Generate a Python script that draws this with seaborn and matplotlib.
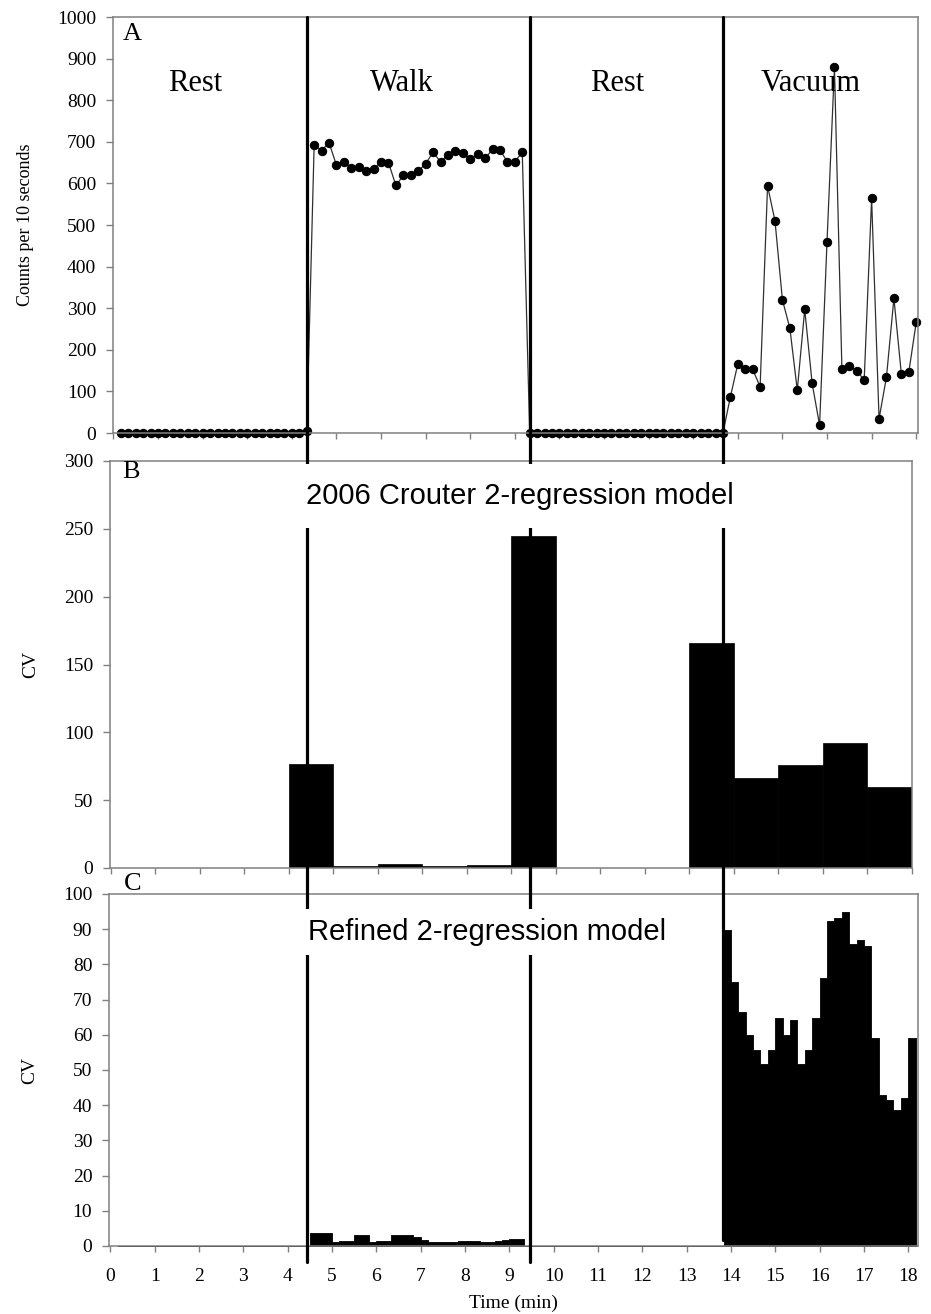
import numpy as np
import pandas as pd
import matplotlib
matplotlib.use("Agg")
import matplotlib.pyplot as plt
import seaborn as sns
from matplotlib.lines import Line2D
from matplotlib.transforms import blended_transform_factory

# ---------------- data (10-second epochs) ----------------
# Panel A: accelerometer counts per 10 s
rest1_counts = [0, 0, 0, 0, 0, 0, 0, 0, 0, 0, 0, 0, 0, 0, 0, 0, 0, 0, 0, 0,
                0, 0, 0, 0, 0, 4]
walk_counts = [692, 679, 698, 644, 652, 636, 640, 630, 634, 652, 650, 595, 619,
               620, 630, 647, 675, 652, 668, 679, 672, 659, 670, 660, 682, 680,
               652, 652, 675]
rest2_counts = [0, 0, 0, 0, 0, 0, 0, 0, 0, 0, 0, 0, 0, 0, 0, 0, 0, 0, 0, 0,
                0, 0, 0, 0, 0, 0, 0]
vacuum_counts = [87, 166, 154, 153, 111, 594, 510, 320, 252, 103, 297, 119, 19,
                 460, 879, 155, 162, 150, 127, 564, 34, 135, 324, 142, 146, 266]

# Panel C: refined 2-regression model CV per 10-s epoch
rest1_cv = [0, 0, 0, 0, 0, 0, 0, 0, 0, 0, 0, 0, 0, 0, 0, 0, 0, 0, 0, 0,
            0, 0, 0, 0, 0, 0]
walk_cv = [3.6, 3.6, 3.6, 1.1, 1.3, 1.3, 3.2, 3.2, 1.1, 1.3, 1.3, 3.2, 3.2,
           3.2, 2.5, 1.7, 1.2, 1.2, 1.0, 1.0, 1.3, 1.3, 1.3, 1.0, 1.0, 1.4,
           1.7, 2.0, 2.0]
rest2_cv = [0, 0, 0, 0, 0, 0, 0, 0, 0, 0, 0, 0, 0, 0, 0, 0, 0, 0, 0, 0,
            0, 0, 0, 0, 0, 0, 0]
vacuum_cv = [89.8, 75.1, 66.5, 59.9, 55.8, 51.8, 55.8, 64.9, 59.9, 64.2, 51.8,
             55.8, 64.9, 76.2, 92.2, 93.1, 95.0, 85.9, 86.9, 85.1, 59.1, 43.0,
             41.4, 38.7, 42.1, 59.1]

# Panel B: 2006 Crouter model CV per minute
minute_start = [0, 1, 2, 3, 4, 5, 6, 7, 8, 9, 10, 11, 12, 13, 14, 15, 16, 17]
crouter_cv = [0, 0, 0, 0, 77, 1.5, 2.7, 1.5, 2.0, 245, 0, 0, 0, 166, 66, 76,
              92, 59.5]

phase_change_min = [4.33, 9.33, 13.67]
phase_names = ["Rest", "Walk", "Rest", "Vacuum"]
phase_label_x = [1.83, 6.46, 11.29, 15.64]

x_ticks = list(range(0, 19))
a_yticks = list(range(0, 1001, 100))
b_yticks = list(range(0, 301, 50))
c_yticks = list(range(0, 101, 10))

# ---------------- frames ----------------
counts_all = rest1_counts + walk_counts + rest2_counts + vacuum_counts
cv_all = rest1_cv + walk_cv + rest2_cv + vacuum_cv
n_ep = len(counts_all)
epoch_idx = np.arange(1, n_ep + 1)
dfA = pd.DataFrame({"t": epoch_idx / 6.0, "counts": counts_all})
dfC = pd.DataFrame({"t": (epoch_idx + 0.5) / 6.0, "cv": cv_all})
c_edges = [float(v) for v in np.arange(1, n_ep + 2) / 6.0]
dfB = pd.DataFrame({"t": np.array(minute_start) + 0.5, "cv": crouter_cv})
b_edges = [float(v) for v in range(0, len(minute_start) + 1)]

# ---------------- style ----------------
sns.set_theme(style="ticks")
plt.rcParams["font.family"] = ["Liberation Serif", "DejaVu Serif"]
plt.rcParams.update({
    "axes.edgecolor": "#808080",
    "axes.linewidth": 1.1,
    "xtick.color": "#808080",
    "ytick.color": "#808080",
    "xtick.labelcolor": "black",
    "ytick.labelcolor": "black",
    "xtick.major.width": 1.0,
    "ytick.major.width": 1.0,
    "xtick.major.size": 4.5,
    "ytick.major.size": 5,
    "xtick.direction": "out",
    "ytick.direction": "out",
    "xtick.labelsize": 14,
    "ytick.labelsize": 14,
    "axes.labelsize": 14,
    "axes.labelcolor": "black",
    "text.color": "black",
})

W, H = 931, 1314
fig = plt.figure(figsize=(W / 100, H / 100), dpi=100)
fig.patch.set_facecolor("white")

def rect(l, r, t, b):
    return [l / W, 1 - b / H, (r - l) / W, (b - t) / H]

axA = fig.add_axes(rect(113, 918, 17, 433))
axB = fig.add_axes(rect(110, 912, 461, 868))
axC = fig.add_axes(rect(109, 918, 894, 1246))

# Panel A
sns.lineplot(data=dfA, x="t", y="counts", ax=axA, color="#303030", lw=0.9,
             marker="o", markersize=6, markerfacecolor="black",
             markeredgecolor="black", clip_on=False)
axA.set_xlim(-0.01, 18.04)
axA.set_ylim(0, 1000)
axA.set_yticks(a_yticks)
axA.set_xticks(x_ticks)
axA.tick_params(axis="x", labelbottom=False)
axA.tick_params(axis="y", pad=7)
axA.set_xlabel("")
axA.set_ylabel("Counts per 10 seconds", fontsize=13, labelpad=17)
axA.text(0.012, 0.985, "A", transform=axA.transAxes, fontsize=19,
         ha="left", va="top")
for name, xp in zip(phase_names, phase_label_x):
    axA.text(xp, 840, name, fontsize=22, ha="center", va="center")

# Panel B
sns.histplot(data=dfB, x="t", weights="cv", bins=b_edges, element="bars",
             color="black", alpha=1, edgecolor="black", linewidth=0.5, ax=axB)
axB.set_xlim(-0.02, 18.0)
axB.set_ylim(0, 300)
axB.set_yticks(b_yticks)
axB.set_xticks(x_ticks)
axB.tick_params(axis="x", labelbottom=False)
axB.tick_params(axis="y", pad=7)
axB.set_xlabel("")
axB.set_ylabel("CV", fontsize=14, labelpad=18)
axB.text(0.015, 1.0, "B", transform=axB.transAxes, fontsize=19,
         ha="left", va="top")

# Panel C
sns.histplot(data=dfC, x="t", weights="cv", bins=c_edges, element="step",
             fill=True, color="black", alpha=1, linewidth=0.6, ax=axC)
axC.set_xlim(-0.03, 18.22)
axC.set_ylim(0, 100)
axC.set_yticks(c_yticks)
axC.set_xticks(x_ticks)
axC.tick_params(axis="x", pad=11)
axC.tick_params(axis="y", pad=7)
axC.set_xlabel("Time (min)", fontsize=14, labelpad=7)
axC.set_ylabel("CV", fontsize=14, labelpad=18)
axC.text(0.018, 1.028, "C", transform=axC.transAxes, fontsize=19,
         ha="left", va="center")

for ax in (axA, axB, axC):
    for s in ax.spines.values():
        s.set_visible(True)
        s.set_color("#808080")

# Phase-change lines spanning the panels
blend = blended_transform_factory(axA.transData, fig.transFigure)
line_bottoms = [1 - 1262 / H, 1 - 1262 / H, 1 - 1240 / H]
for xc, yb in zip(phase_change_min, line_bottoms):
    fig.add_artist(Line2D([xc, xc], [1 - 17 / H, yb], transform=blend,
                          color="black", lw=2.3, zorder=3))

# Model annotations with white boxes (above the lines)
fig.text(9.19, 274, "2006 Crouter 2-regression model", transform=axB.transData,
         fontsize=21, family="Liberation Sans", ha="center", va="center",
         zorder=6, bbox=dict(boxstyle="square,pad=0.62", fc="white", ec="none"))
fig.text(8.49, 89.2, "Refined 2-regression model", transform=axC.transData,
         fontsize=21, family="Liberation Sans", ha="center", va="center",
         zorder=6, bbox=dict(boxstyle="square,pad=0.3", fc="white", ec="none"))

fig.savefig("out.png", dpi=100, facecolor="white")
